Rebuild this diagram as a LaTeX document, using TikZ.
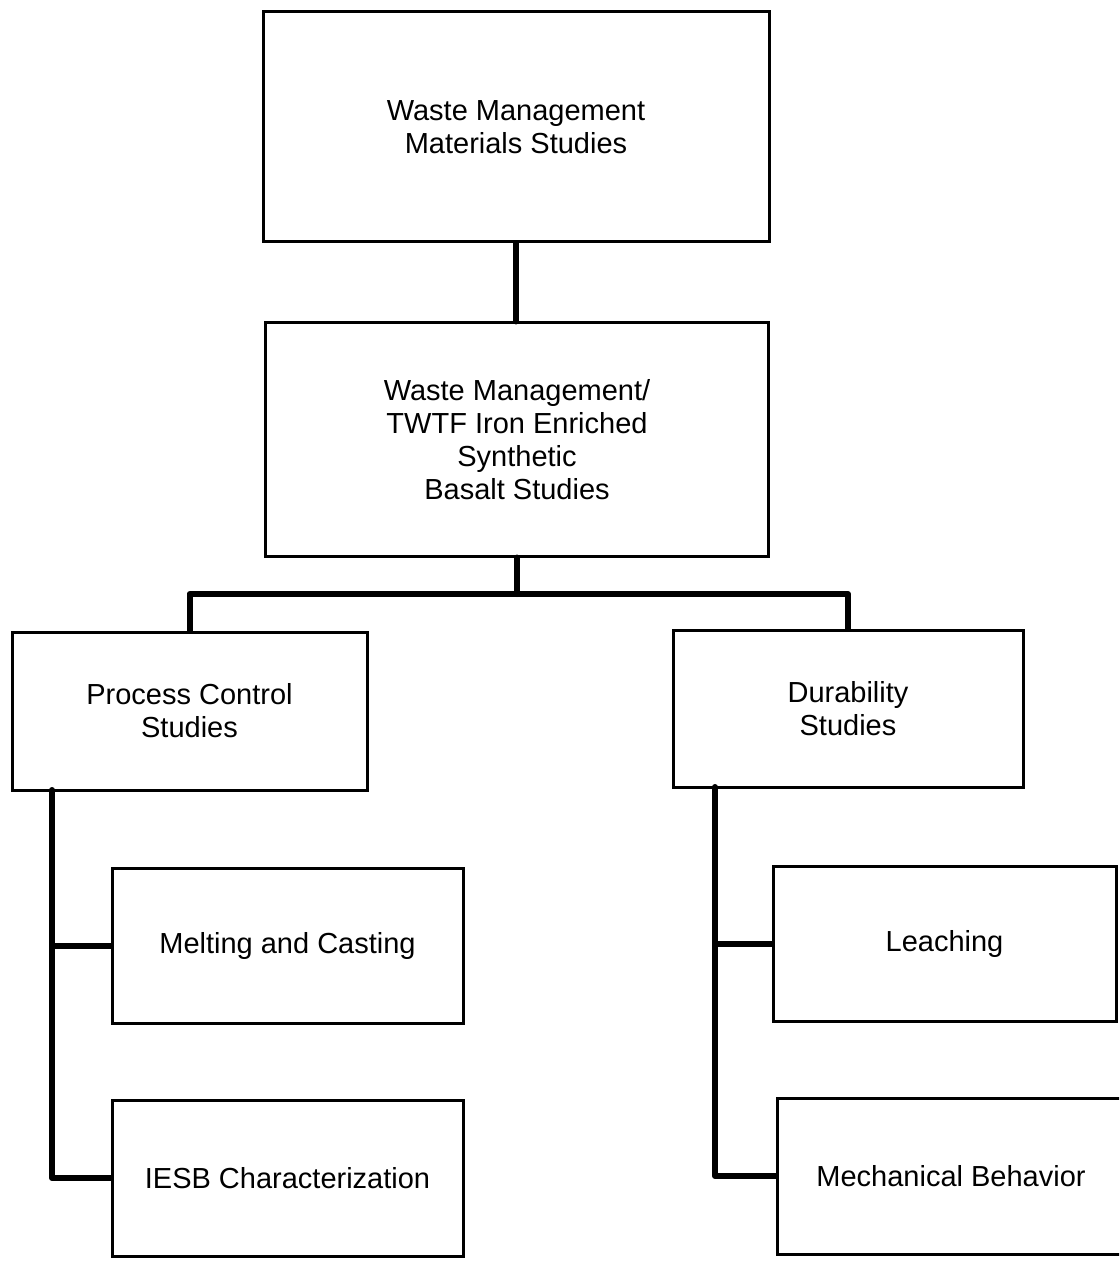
\documentclass[tikz,border=0pt]{standalone}
\usepackage{fontspec}
\setmainfont{Liberation Sans}
\usepackage{tikz}

\begin{document}
\begin{tikzpicture}[x=0.5pt,y=-0.5pt,
    studybox/.style={draw,line width=1.5pt,inner sep=0pt,align=center,
      font=\fontsize{14.5}{16.6}\selectfont},
    link/.style={line width=3pt,line join=round,line cap=round}]
  \useasboundingbox
    (0,0)
    rectangle
    (1119,1262);
  \clip
    (0,0)
    rectangle
    (1119,1262);
  % boxes
  \node[studybox,minimum width=253pt,minimum height=115pt]
    (wmm) at (516,127) {Waste Management\\Materials Studies};
  \node[studybox,minimum width=251.5pt,minimum height=116.5pt]
    (basalt) at (517,439.5) {Waste Management/\\TWTF Iron Enriched\\Synthetic\\Basalt Studies};
  \node[studybox,minimum width=177.5pt,minimum height=79pt]
    (process) at (189.5,711) {Process Control\\Studies};
  \node[studybox,minimum width=175pt,minimum height=78.5pt]
    (durab) at (848,708.5) {Durability\\Studies};
  \node[studybox,minimum width=175.5pt,minimum height=77.5pt]
    (melting) at (287.5,945.5) {Melting and Casting};
  \node[studybox,minimum width=175.5pt,minimum height=78pt]
    (iesb) at (287.5,1178) {IESB Characterization};
  \node[studybox,minimum width=171.5pt,minimum height=77.5pt]
    (leaching) at (944.5,943.5) {Leaching};
  \node[studybox,minimum width=180pt,minimum height=78pt]
    (mech) at (957,1176) {\hspace*{-6pt}Mechanical Behavior};
  % connectors
  \coordinate (bus) at (517,594);
  \coordinate (lspine) at (52,790);
  \coordinate (rspine) at (715,787);
  \draw[link]
    (wmm.south)
    --
    (wmm.south |- basalt.north);
  \draw[link]
    (basalt.south)
    --
    (bus);
  \draw[link]
    (process.north)
    |-
    (bus)
    -|
    (durab.north);
  \draw[link]
    (lspine)
    |-
    (iesb.west);
  \draw[link]
    (lspine |- melting.west)
    --
    (melting.west);
  \draw[link]
    (rspine)
    |-
    (mech.west);
  \draw[link]
    (rspine |- leaching.west)
    --
    (leaching.west);
\end{tikzpicture}
\end{document}
